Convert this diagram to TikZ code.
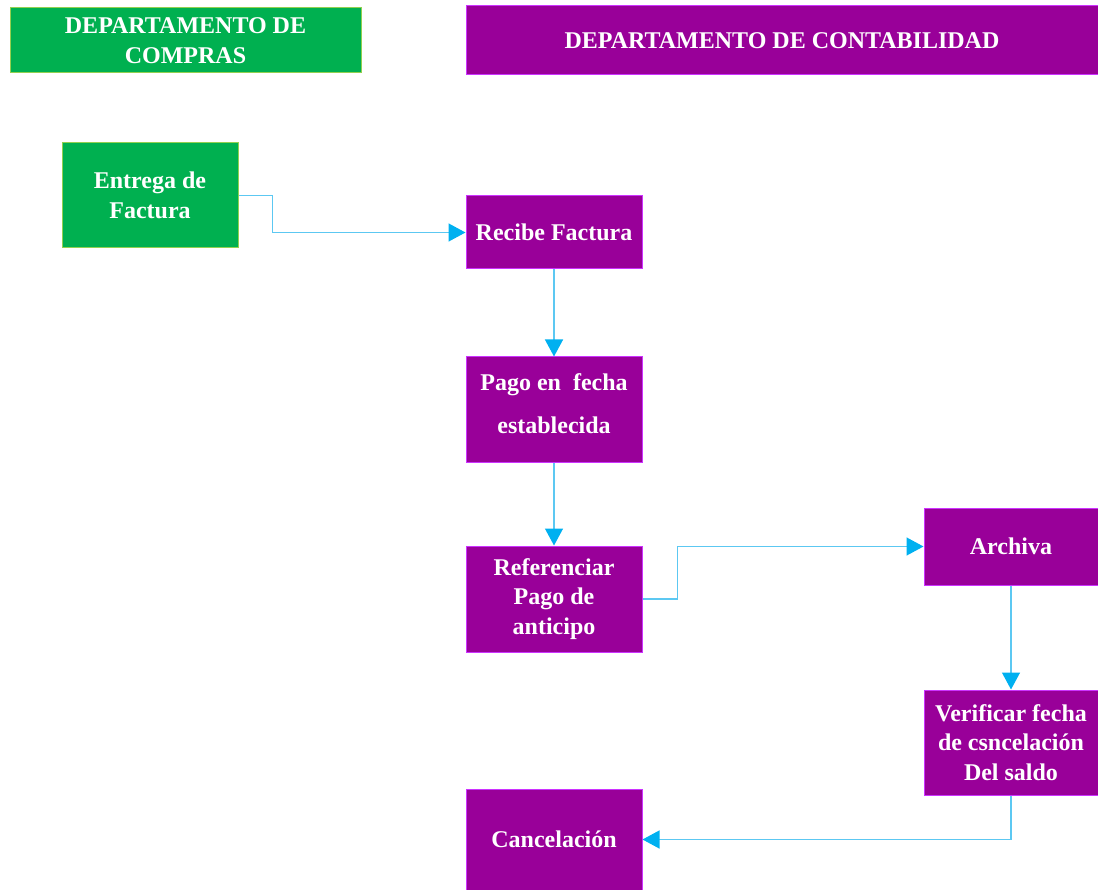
\documentclass[tikz,border=0pt]{standalone}
\usepackage{fontspec}
\setmainfont{Liberation Serif}
\usetikzlibrary{arrows.meta}
\definecolor{boxpurple}{HTML}{990099}
\definecolor{edgepurple}{HTML}{CC33FF}
\definecolor{boxgreen}{HTML}{00B050}
\definecolor{edgegreen}{HTML}{92D050}
\definecolor{flowline}{HTML}{5CC8F2}
\definecolor{flowtip}{HTML}{00B0F0}

\begin{document}
\begin{tikzpicture}[x=1pt,y=-1pt,
  lbl/.style={font=\fontsize{24}{29.5}\selectfont\bfseries, text=white, align=center, inner sep=0pt},
  pbox/.style={lbl, fill=boxpurple, draw=edgepurple, line width=1pt},
  gbox/.style={lbl, fill=boxgreen, draw=edgegreen, line width=1pt},
  flow/.style={draw=flowline, line width=1.4pt, -{Triangle[length=17pt,width=18pt,color=flowtip]}}]

\useasboundingbox (0,0) rectangle (1098,890);

% department headers
\node[gbox, minimum width=351pt, minimum height=65pt] (hcompras) at (185.5,40.5)
  {DEPARTAMENTO DE\\COMPRAS};
\node[pbox, minimum width=632pt, minimum height=69pt] (hconta) at (782,40.5)
  {DEPARTAMENTO DE CONTABILIDAD};

% process steps
\node[gbox, minimum width=176pt, minimum height=105pt] (entrega) at (150,195.5)
  {Entrega de\\Factura};
\node[pbox, minimum width=176pt, minimum height=73pt] (recibe) at (554,232.5)
  {Recibe Factura};
\node[pbox, minimum width=176pt, minimum height=105pt, text depth=12pt,
      font=\fontsize{24}{43}\selectfont\bfseries] (pago) at (554,409.5)
  {Pago en\ \ fecha\\establecida};
\node[pbox, minimum width=176pt, minimum height=106pt] (refer) at (554,599)
  {Referenciar\\Pago de\\anticipo};
\node[pbox, minimum width=174pt, minimum height=77pt] (archiva) at (1011,546.5)
  {Archiva};
\node[pbox, minimum width=174pt, minimum height=105pt] (verif) at (1011,742.5)
  {Verificar fecha\\de csncelación\\Del saldo};
\node[pbox, minimum width=176pt, minimum height=101pt] (cancel) at (554,839.5)
  {Cancelación};

% connectors
\draw[flow] (entrega.east) -- ++(34,0) |- (recibe.west);
\draw[flow] (recibe.south) -- (pago.north);
\draw[flow] (pago.south) -- (refer.north);
\draw[flow] (refer.east) -- ++(35,0) |- (archiva.west);
\draw[flow] (archiva.south) -- (verif.north);
\draw[flow] (verif.south) |- (cancel.east);
\end{tikzpicture}
\end{document}
